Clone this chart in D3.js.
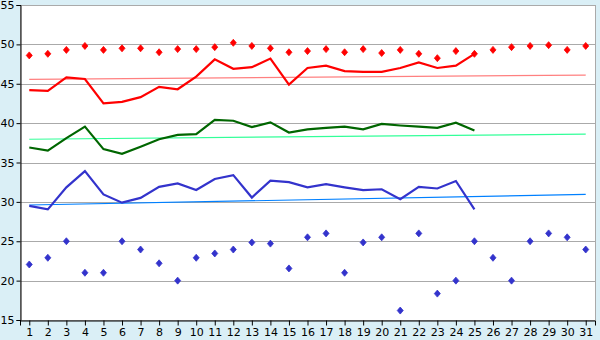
<!DOCTYPE html>
<html>
<head>
<meta charset="utf-8">
<script src="https://cdn.jsdelivr.net/npm/d3@7"></script>
<style>
  body { margin: 0; background: #daeff6; }
  svg { display: block; }
  .axis text { font-family: "DejaVu Sans", sans-serif; font-size: 11px; fill: #000; }
  .axis path, .axis line { stroke: #000; }
</style>
</head>
<body>
<script>
// days on the x axis
var days = d3.range(1, 32);
var yTicks = [15, 20, 25, 30, 35, 40, 45, 50, 55];

// solid lines (days 1-25)
var redLine = [44.2, 44.1, 45.8, 45.6, 42.5, 42.7, 43.3, 44.6, 44.3, 45.9,
  48.1, 46.9, 47.1, 48.2, 44.9, 47.0, 47.3, 46.6, 46.5, 46.5,
  47.0, 47.7, 47.0, 47.3, 48.8];
var greenLine = [36.9, 36.5, 38.1, 39.55, 36.7, 36.1, 37.0, 37.95, 38.5, 38.6,
  40.4, 40.3, 39.5, 40.1, 38.8, 39.2, 39.4, 39.55, 39.2, 39.9,
  39.7, 39.55, 39.4, 40.05, 39.05];
var blueLine = [29.5, 29.05, 31.85, 33.9, 30.95, 29.9, 30.5, 31.9, 32.35, 31.5,
  32.9, 33.4, 30.55, 32.7, 32.5, 31.85, 32.25, 31.85, 31.5, 31.6,
  30.35, 31.9, 31.7, 32.65, 29.05];

// point series (days 1-31)
var redPoints = [48.6, 48.8, 49.3, 49.8, 49.3, 49.5, 49.5, 49.0, 49.4, 49.4,
  49.65, 50.2, 49.8, 49.5, 49.0, 49.15, 49.4, 49.0, 49.4, 48.9,
  49.3, 48.8, 48.25, 49.15, 48.8, 49.3, 49.65, 49.8, 49.9, 49.3, 49.8];
var bluePoints = [22.05, 22.9, 25.0, 21.0, 21.0, 25.0, 23.95, 22.2, 20.0, 22.9,
  23.45, 23.95, 24.85, 24.7, 21.55, 25.5, 26.0, 21.0, 24.85, 25.5,
  16.2, 26.0, 18.35, 20.0, 25.0, 22.9, 20.0, 25.0, 26.0, 25.5, 23.95];

// trend lines: value at day 1 and at day 31
var redTrend = [45.55, 46.1];
var greenTrend = [37.95, 38.6];
var blueTrend = [29.6, 30.95];

var plotLeft = 20, plotRight = 595, plotTop = 5, plotBottom = 320;

var svg = d3.select("body").append("svg")
  .attr("width", 600)
  .attr("height", 340);

var x = d3.scalePoint().domain(days).range([plotLeft, plotRight]).padding(0.5);
var y = d3.scaleLinear().domain([15, 55]).range([plotBottom, plotTop]);

// plot area
svg.append("rect")
  .attr("x", plotLeft).attr("y", plotTop)
  .attr("width", plotRight - plotLeft).attr("height", plotBottom - plotTop)
  .attr("fill", "#fff");

// gridlines
svg.selectAll(".grid")
  .data(yTicks.slice(1, -1))
  .enter().append("line")
  .attr("x1", plotLeft).attr("x2", plotRight)
  .attr("y1", function (d) { return Math.round(y(d)) + 0.5; })
  .attr("y2", function (d) { return Math.round(y(d)) + 0.5; })
  .attr("stroke", "#aaa");

svg.append("rect")
  .attr("x", plotLeft + 0.5).attr("y", plotTop + 0.5)
  .attr("width", plotRight - plotLeft).attr("height", plotBottom - plotTop)
  .attr("fill", "none").attr("stroke", "#aaa");

// axes
var xAxis = svg.append("g")
  .attr("class", "axis")
  .attr("transform", "translate(0," + (plotBottom + 0.5) + ")")
  .call(d3.axisBottom(x).tickSize(5).tickPadding(3));
xAxis.select(".domain").attr("stroke", "#aaa");

var yAxis = svg.append("g")
  .attr("class", "axis")
  .attr("transform", "translate(" + (plotLeft + 0.5) + ",0)")
  .call(d3.axisLeft(y).tickValues(yTicks).tickSize(4).tickPadding(2));
yAxis.select(".domain").attr("stroke", "#aaa");

// trend lines
function drawTrend(vals, color) {
  svg.append("line")
    .attr("x1", x(1)).attr("x2", x(31))
    .attr("y1", y(vals[0])).attr("y2", y(vals[1]))
    .attr("stroke", color).attr("stroke-width", 1.2);
}
drawTrend(redTrend, "#ff8080");
drawTrend(greenTrend, "#33ff99");
drawTrend(blueTrend, "#0080ff");

// solid lines
var line = d3.line()
  .x(function (d, i) { return x(days[i]); })
  .y(function (d) { return y(d); });

function drawLine(vals, color) {
  svg.append("path")
    .attr("d", line(vals))
    .attr("fill", "none")
    .attr("stroke", color)
    .attr("stroke-width", 2.2);
}
drawLine(redLine, "#ff0000");
drawLine(greenLine, "#006600");
drawLine(blueLine, "#3333cc");

// point markers
function drawPoints(vals, color) {
  svg.append("g").selectAll("path")
    .data(vals)
    .enter().append("path")
    .attr("transform", function (d, i) { return "translate(" + x(days[i]) + "," + y(d) + ")"; })
    .attr("d", "M0,-3.5L3,0L0,3.5L-3,0Z")
    .attr("fill", color)
    .attr("stroke", color)
    .attr("stroke-width", 0.8);
}
drawPoints(redPoints, "#ff0000");
drawPoints(bluePoints, "#3333cc");
</script>
</body>
</html>
